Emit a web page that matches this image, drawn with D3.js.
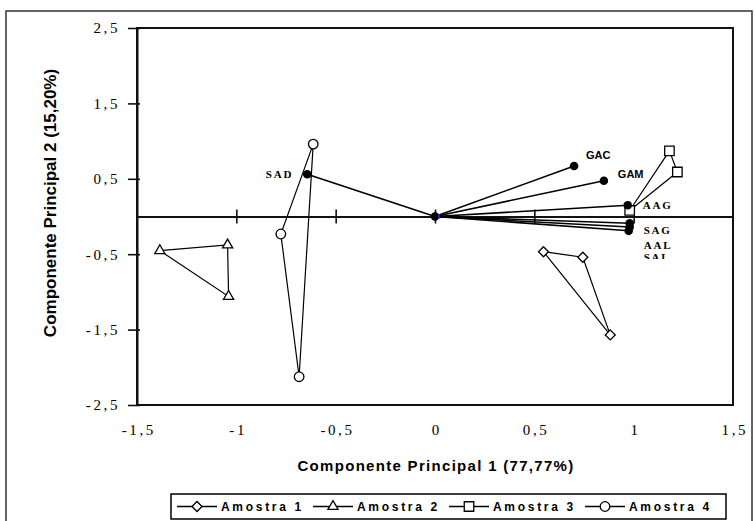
<!DOCTYPE html>
<html>
<head>
<meta charset="utf-8">
<script src="https://cdn.jsdelivr.net/npm/d3@7"></script>
<style>
body { margin: 0; background: #fff; }
</style>
</head>
<body>
<div id="chart"></div>
<script>
// sample scores (PC1, PC2)
var amostra1 = [[0.546, -0.467], [0.744, -0.54], [0.882, -1.57]];
var amostra2 = [[-1.385, -0.453], [-1.044, -0.378], [-1.039, -1.06]];
var amostra3 = [[0.98, 0.08], [1.18, 0.87], [1.22, 0.59]];
var amostra4 = [[-0.613, 0.96], [-0.776, -0.232], [-0.684, -2.125]];

// variable loadings
var varNames = ["SAD", "GAC", "GAM", "AAG", "SAG", "AAL", "SAL"];
var varX = [-0.643, 0.70, 0.85, 0.97, 0.98, 0.98, 0.975];
var varY = [0.56, 0.67, 0.475, 0.15, -0.09, -0.14, -0.19];

var seriesNames = ["Amostra 1", "Amostra 2", "Amostra 3", "Amostra 4"];
var xTicks = [-1.5, -1, -0.5, 0, 0.5, 1, 1.5];
var yTicks = [2.5, 1.5, 0.5, -0.5, -1.5, -2.5];
var axisTicks = [-1, -0.5, 0, 0.5, 1];

function init(){

    var w = 755;
    var h = 521;
    var left = 137, right = 733, top = 28, bottom = 405;
    var serif = "'Liberation Serif', 'Times New Roman', serif";
    var sans = "'Liberation Sans', Arial, sans-serif";

    var xScale = d3.scaleLinear().domain([-1.5, 1.5]).range([left, right]);
    var yScale = d3.scaleLinear().domain([-2.5, 2.5]).range([bottom, top]);
    var fmt = function(d){ return String(d).replace(".", ","); };

    var svg = d3.select("#chart")
                .append("svg")
                .attr("width", w)
                .attr("height", h);

    // outer frame
    svg.append("rect")
        .attr("x", 6).attr("y", 11)
        .attr("width", 746).attr("height", 530)
        .attr("fill", "none")
        .attr("stroke", "#333")
        .attr("stroke-width", 1.5);

    // plot frame
    svg.append("rect")
        .attr("x", left).attr("y", top)
        .attr("width", right - left).attr("height", bottom - top)
        .attr("fill", "none")
        .attr("stroke", "#111")
        .attr("stroke-width", 2);

    // y axis with tick labels
    var yAxis = svg.append("g")
        .attr("transform", "translate(" + left + ",0)")
        .call(d3.axisLeft(yScale).tickValues(yTicks).tickSize(9).tickSizeOuter(0).tickPadding(8).tickFormat(fmt));
    yAxis.select(".domain").attr("stroke", "#111").attr("stroke-width", 2);
    yAxis.selectAll("line").attr("x1", 3).attr("stroke", "#111").attr("stroke-width", 1.6);
    yAxis.selectAll("text")
        .attr("font-family", serif)
        .attr("font-size", "15px")
        .attr("letter-spacing", "2.6px")
        .attr("fill", "#000");

    // x tick labels under the frame
    var xLab = svg.append("g")
        .attr("transform", "translate(0," + bottom + ")")
        .call(d3.axisBottom(xScale).tickValues(xTicks).tickSize(0).tickPadding(19).tickFormat(fmt));
    xLab.select(".domain").remove();
    xLab.selectAll("text")
        .attr("font-family", serif)
        .attr("font-size", "15px")
        .attr("letter-spacing", "2.6px")
        .attr("dx", "1.3px")
        .attr("fill", "#000");

    // horizontal axis through y = 0
    var zeroAxis = svg.append("g")
        .attr("transform", "translate(0," + yScale(0) + ")")
        .call(d3.axisBottom(xScale).tickValues(axisTicks).tickSize(7).tickSizeOuter(0).tickFormat(""));
    zeroAxis.select(".domain").attr("stroke", "#111").attr("stroke-width", 1.8);
    zeroAxis.selectAll("line").attr("y1", -7).attr("stroke", "#111").attr("stroke-width", 1.6);

    // loading vectors
    svg.selectAll(".vec")
        .data(varNames)
        .enter()
        .append("line")
        .attr("class", "vec")
        .attr("x1", xScale(0)).attr("y1", yScale(0))
        .attr("x2", function(d, i){ return xScale(varX[i]); })
        .attr("y2", function(d, i){ return yScale(varY[i]); })
        .attr("stroke", "#000")
        .attr("stroke-width", 1.6);

    // sample polygons
    var samples = [amostra1, amostra2, amostra3, amostra4];
    var shapes = [
        {type: d3.symbolSquare, size: 50, rot: 45},
        {type: d3.symbolTriangle, size: 45, rot: 0},
        {type: d3.symbolSquare, size: 90, rot: 0},
        {type: d3.symbolCircle, size: 72, rot: 0}
    ];
    var line = d3.line()
        .x(function(d){ return xScale(d[0]); })
        .y(function(d){ return yScale(d[1]); })
        .curve(d3.curveLinearClosed);

    samples.forEach(function(pts, k){
        svg.append("path")
            .attr("d", line(pts))
            .attr("fill", "none")
            .attr("stroke", "#000")
            .attr("stroke-width", 1.2);
    });

    samples.forEach(function(pts, k){
        svg.selectAll(".m" + k)
            .data(pts)
            .enter()
            .append("path")
            .attr("class", "m" + k)
            .attr("d", d3.symbol().type(shapes[k].type).size(shapes[k].size))
            .attr("transform", function(d){
                return "translate(" + xScale(d[0]) + "," + yScale(d[1]) + ") rotate(" + shapes[k].rot + ")";
            })
            .attr("fill", "#fff")
            .attr("stroke", "#000")
            .attr("stroke-width", 1.3);
    });

    // loading points + origin
    svg.selectAll(".dot")
        .data(varNames)
        .enter()
        .append("circle")
        .attr("class", "dot")
        .attr("cx", function(d, i){ return xScale(varX[i]); })
        .attr("cy", function(d, i){ return yScale(varY[i]); })
        .attr("r", 4.3)
        .attr("fill", "#000");
    svg.append("circle")
        .attr("cx", xScale(0)).attr("cy", yScale(0))
        .attr("r", 4.3).attr("fill", "#000");
    svg.append("rect")
        .attr("x", xScale(0) + 3).attr("y", yScale(0) - 2)
        .attr("width", 2).attr("height", 4)
        .attr("fill", "#1a1aff");

    // variable labels
    var labelPos = {
        SAD: [-14, 4, "end", "serif"],
        GAC: [12, -7, "start", "sans"],
        GAM: [14, -3, "start", "sans"],
        AAG: [15, 4, "start", "serif"],
        SAG: [14, 11, "start", "serif"],
        AAL: [14, 22, "start", "serif"],
        SAL: [15, 30, "start", "serif"]
    };
    svg.append("clipPath").attr("id", "salclip")
        .append("rect").attr("x", 0).attr("y", 0).attr("width", w).attr("height", 259);

    svg.selectAll(".vlab")
        .data(varNames)
        .enter()
        .append("text")
        .attr("class", "vlab")
        .attr("x", function(d, i){ return xScale(varX[i]) + labelPos[d][0]; })
        .attr("y", function(d, i){ return yScale(varY[i]) + labelPos[d][1]; })
        .attr("text-anchor", function(d){ return labelPos[d][2]; })
        .attr("font-family", function(d){ return labelPos[d][3] == "serif" ? serif : sans; })
        .attr("font-size", "11px")
        .attr("font-weight", "bold")
        .attr("letter-spacing", function(d){ return labelPos[d][3] == "serif" ? "1.8px" : "0px"; })
        .attr("clip-path", function(d){ return d == "SAL" ? "url(#salclip)" : null; })
        .text(function(d){ return d; });

    // axis titles
    svg.append("text")
        .attr("x", 436).attr("y", 471)
        .attr("text-anchor", "middle")
        .attr("font-family", sans)
        .attr("font-size", "15px")
        .attr("font-weight", "bold")
        .attr("letter-spacing", "1.3px")
        .text("Componente Principal 1 (77,77%)");

    svg.append("text")
        .attr("transform", "translate(56,203) rotate(-90)")
        .attr("text-anchor", "middle")
        .attr("font-family", sans)
        .attr("font-size", "17px")
        .attr("font-weight", "bold")
        .text("Componente Principal 2 (15,20%)");

    // legend
    var legend = svg.append("g");
    legend.append("rect")
        .attr("x", 171).attr("y", 494)
        .attr("width", 555).attr("height", 25)
        .attr("fill", "#fff")
        .attr("stroke", "#000")
        .attr("stroke-width", 1.5);

    var ly = 506.5;
    seriesNames.forEach(function(name, k){
        var lx = 177 + k * 136;
        legend.append("line")
            .attr("x1", lx).attr("x2", lx + 40)
            .attr("y1", ly).attr("y2", ly)
            .attr("stroke", "#000").attr("stroke-width", 1.3);
        legend.append("path")
            .attr("d", d3.symbol().type(shapes[k].type).size(shapes[k].size))
            .attr("transform", "translate(" + (lx + 20) + "," + ly + ") rotate(" + shapes[k].rot + ")")
            .attr("fill", "#fff").attr("stroke", "#000").attr("stroke-width", 1.3);
        legend.append("text")
            .attr("x", lx + 44).attr("y", ly + 4.5)
            .attr("font-family", sans)
            .attr("font-size", "12px")
            .attr("font-weight", "bold")
            .attr("letter-spacing", "2.7px")
            .text(name);
    });
}

window.onload = init;
</script>
</body>
</html>
